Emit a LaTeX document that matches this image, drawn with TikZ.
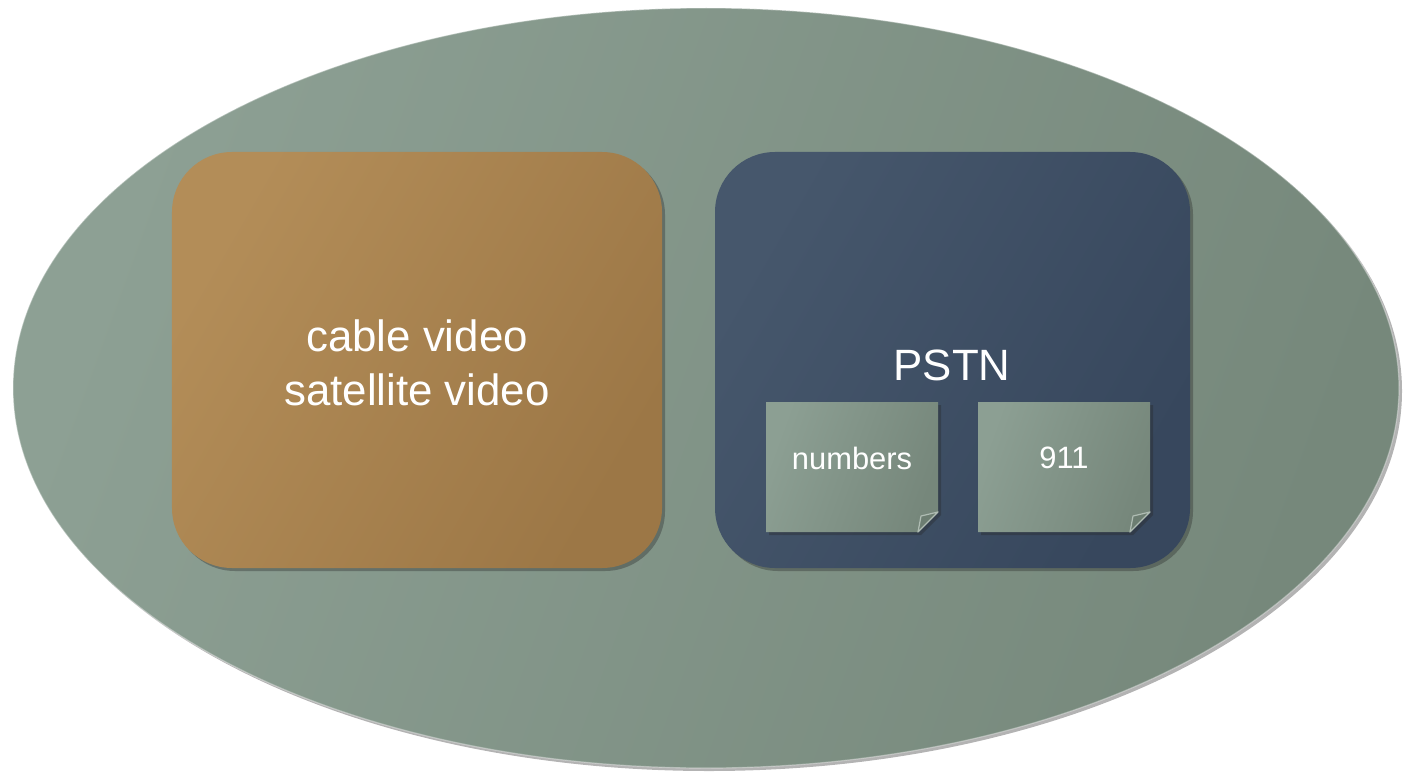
\documentclass[tikz,border=0pt]{standalone}
\usepackage{fontspec}
\setmainfont{Liberation Sans}
\usetikzlibrary{shadows}

\definecolor{sageL}{HTML}{8DA094}
\definecolor{sageD}{HTML}{76887B}
\definecolor{ochreL}{HTML}{B38D58}
\definecolor{ochreD}{HTML}{9C7746}
\definecolor{slateL}{HTML}{46576C}
\definecolor{slateD}{HTML}{37475D}
\definecolor{noteL}{HTML}{8C9F93}
\definecolor{noteD}{HTML}{76877B}
\definecolor{foldC}{HTML}{6C7D71}

\tikzset{
  softshadow/.style={drop shadow={shadow xshift=3bp, shadow yshift=-3bp, opacity=0.35, fill=black!85}},
  panel/.style={rectangle, rounded corners=60bp, inner sep=0pt, softshadow},
  caption/.style={text=white, font=\fontsize{44}{54}\selectfont, align=center, inner sep=0pt},
  notelabel/.style={text=white, font=\fontsize{31}{36}\selectfont, inner sep=0pt},
  notebody/.style={left color=noteL, right color=noteD, shading angle=70, softshadow},
  notefold/.style={fill=foldC, draw=noteL!70!white, line width=1.2bp, line join=round},
}

% sticky note with a turned-down lower right corner: #1 = left x, #2 = top y, #3 = name, #4 = text
\newcommand{\stickynote}[4]{%
  \path[notebody] (#1,#2) -- ++(172,0) -- ++(0,110) -- ++(-20,20) -- ++(-152,0) -- cycle;
  \path[notefold] (#1+172,#2+110) -- (#1+155,#2+114) -- (#1+152,#2+130) -- cycle;
  \node[notelabel] (#3) at (#1+86,#2+56) {#4};
}

\begin{document}
\begin{tikzpicture}[x=1bp, y=-1bp]
  \useasboundingbox (0,0) rectangle (1404,775);

  % outer ellipse
  \path[left color=sageL, right color=sageD, shading angle=70, softshadow]
    (706,388) ellipse [x radius=693, y radius=380];
  \draw[white, opacity=0.35, line width=1.2bp] (706,388) ellipse [x radius=693, y radius=380];

  % video panel
  \node[panel, left color=ochreL, right color=ochreD, shading angle=60,
        minimum width=490bp, minimum height=416bp] (video) at (417,360) {};
  \node[caption] (videotxt) at (417,363) {cable video\\satellite video};

  % telephone panel
  \node[panel, left color=slateL, right color=slateD, shading angle=60,
        minimum width=475bp, minimum height=416bp] (pstn) at (952.5,360) {};
  \node[caption] (pstntxt) at (952,365) {PSTN};

  \stickynote{766}{402}{numbers}{numbers}
  \stickynote{978}{402}{nine}{911}
\end{tikzpicture}
\end{document}
